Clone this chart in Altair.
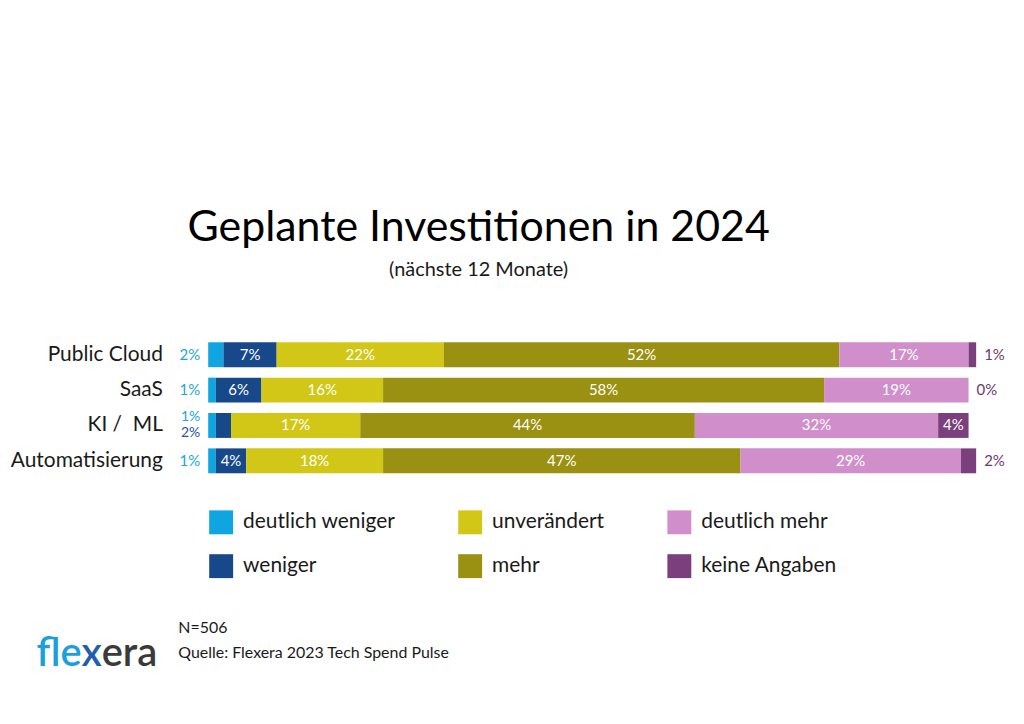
import altair as alt
import pandas as pd

categories = ["Public Cloud", "SaaS", "KI / \u00a0ML", "Automatisierung"]
series = ["deutlich weniger", "weniger", "unverändert", "mehr", "deutlich mehr", "keine Angaben"]
colors = ["#0ea5e0", "#17498a", "#d2c716", "#9a9112", "#d08ecb", "#7b3f7d"]

public_cloud = [2, 7, 22, 52, 17, 1]
saas = [1, 6, 16, 58, 19, 0]
ki_ml = [1, 2, 17, 44, 32, 4]
automatisierung = [1, 4, 18, 47, 29, 2]

FONT = "Lato"

rows = []
for cat, vals in zip(categories, [public_cloud, saas, ki_ml, automatisierung]):
    small_weniger = vals[1] < 3
    for i, (s, v) in enumerate(zip(series, vals)):
        if s == "deutlich weniger":
            pos = "left1" if small_weniger else "left"
        elif s == "weniger":
            pos = "left2" if v < 3 else "in"
        elif s == "keine Angaben":
            pos = "in" if v >= 3 else "right"
        else:
            pos = "in"
        rows.append({"cat": cat, "series": s, "value": v, "idx": i,
                     "label": f"{v}%", "pos": pos})
df = pd.DataFrame(rows)

xscale = alt.Scale(domain=[0, 101], nice=False, zero=True)
yenc = alt.Y("cat:N", sort=categories,
             scale=alt.Scale(paddingInner=0.3, paddingOuter=0.15),
             axis=alt.Axis(title=None, ticks=False, domain=False, labelFont=FONT,
                           labelFontSize=21, labelColor="#1a1a1a", labelPadding=46))

base = alt.Chart(df)

bars = base.mark_bar(size=25).encode(
    x=alt.X("value:Q", stack="zero", scale=xscale, axis=None),
    y=yenc,
    order=alt.Order("idx:Q"),
    color=alt.Color("series:N", scale=alt.Scale(domain=series, range=colors),
                    legend=alt.Legend(title=None, orient="none", legendX=1, legendY=174,
                                      columns=3, columnPadding=63, rowPadding=20,
                                      symbolType="square", symbolSize=576,
                                      symbolStrokeWidth=0, symbolOpacity=1,
                                      labelFont=FONT, labelFontSize=21, labelColor="#1a1a1a",
                                      labelOffset=10)),
)

stacked = base.transform_stack(
    stack="value", groupby=["cat"], as_=["x0", "x1"],
    sort=[alt.SortField("idx", order="ascending")]
).transform_calculate(mid="(datum.x0 + datum.x1) / 2")

inside = stacked.transform_filter(alt.datum.pos == "in").mark_text(
    font=FONT, fontSize=15, color="white", baseline="middle").encode(
    x=alt.X("mid:Q", scale=xscale), y=alt.Y("cat:N", sort=categories), text="label:N")

left = stacked.transform_filter(alt.datum.pos == "left").mark_text(
    font=FONT, fontSize=15, color="#1aa7e1", align="right", dx=-8, baseline="middle").encode(
    x=alt.X("x0:Q", scale=xscale), y=alt.Y("cat:N", sort=categories), text="label:N")

left1 = stacked.transform_filter(alt.datum.pos == "left1").mark_text(
    font=FONT, fontSize=14, color="#1aa7e1", align="right", dx=-8, dy=-8, baseline="middle").encode(
    x=alt.value(0), y=alt.Y("cat:N", sort=categories), text="label:N")

left2 = stacked.transform_filter(alt.datum.pos == "left2").mark_text(
    font=FONT, fontSize=14, color="#2b5596", align="right", dx=-8, dy=8, baseline="middle").encode(
    x=alt.value(0), y=alt.Y("cat:N", sort=categories), text="label:N")

right = stacked.transform_filter(alt.datum.pos == "right").mark_text(
    font=FONT, fontSize=15, color="#6b3a6e", align="left", dx=8, baseline="middle").encode(
    x=alt.X("x1:Q", scale=xscale), y=alt.Y("cat:N", sort=categories), text="label:N")

foot = pd.DataFrame({"t": ["N=506", "Quelle: Flexera 2023 Tech Spend Pulse"], "k": [0, 1]})
footer1 = alt.Chart(foot).transform_filter(alt.datum.k == 0).mark_text(
    font=FONT, fontSize=16, color="#1a1a1a", align="left", baseline="middle").encode(
    x=alt.value(-30), y=alt.value(292), text="t:N")
footer2 = alt.Chart(foot).transform_filter(alt.datum.k == 1).mark_text(
    font=FONT, fontSize=16, color="#1a1a1a", align="left", baseline="middle").encode(
    x=alt.value(-30), y=alt.value(317), text="t:N")

logo_df = pd.DataFrame({"t": ["fle", "x", "era"]})
logo1 = alt.Chart(logo_df).transform_filter(alt.datum.t == "fle").mark_text(
    font=FONT, fontSize=40, fontWeight=600, color="#1aa0dc", align="right").encode(
    x=alt.value(-127), y=alt.value(318), text="t:N")
logo2 = alt.Chart(logo_df).transform_filter(alt.datum.t == "x").mark_text(
    font=FONT, fontSize=40, fontWeight=600, color="#1f5fae", align="center").encode(
    x=alt.value(-117), y=alt.value(318), text="t:N")
logo3 = alt.Chart(logo_df).transform_filter(alt.datum.t == "era").mark_text(
    font=FONT, fontSize=40, fontWeight=600, color="#3a3a3a", align="left").encode(
    x=alt.value(-107), y=alt.value(318), text="t:N")

chart = alt.layer(bars, inside, left, left1, left2, right,
                  footer1, footer2, logo1, logo2, logo3).properties(
    width=771, height=142,
    autosize=alt.AutoSizeParams(type="none"),
    padding={"left": 201, "top": 329, "right": 40, "bottom": 220},
    title=alt.TitleParams(
        text="Geplante Investitionen in 2024",
        subtitle="(nächste 12 Monate)",
        anchor="middle", frame="group", dx=-114, offset=57,
        font=FONT, fontSize=43, fontWeight="normal", color="#000000",
        subtitleFont=FONT, subtitleFontSize=20, subtitleColor="#1a1a1a",
        subtitlePadding=10),
).configure(background="white").configure_view(stroke=None)

chart.save("out.html", embed_options={"renderer": "svg", "actions": False})
